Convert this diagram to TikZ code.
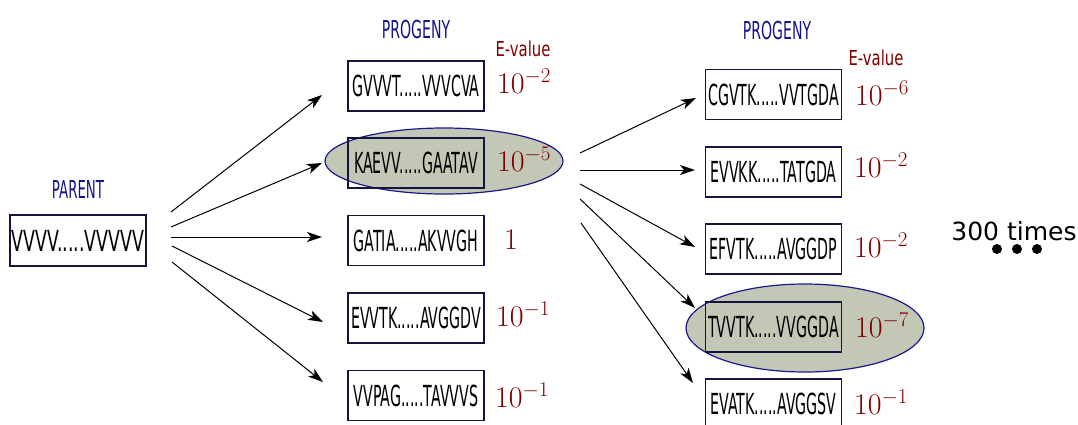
\RequirePackage{fix-cm}
\documentclass[tikz,border=0pt]{standalone}
\usepackage{fontspec}
\newfontfamily\seqfont{DejaVu Sans}
\usetikzlibrary{arrows.meta,shapes.geometric}
\definecolor{boxline}{RGB}{20,20,60}
\definecolor{lblblue}{RGB}{20,20,140}
\definecolor{evred}{RGB}{128,0,0}
\definecolor{hlfill}{RGB}{195,199,182}
\definecolor{hlline}{RGB}{25,25,140}
\newcommand{\seqtxt}[2][0.49]{\scalebox{#1}[1]{\seqfont\fontsize{29}{30}\selectfont #2}}
\newcommand{\hdrtxt}[3]{\scalebox{#1}[1]{\seqfont\fontsize{#2}{#2}\selectfont #3}}
\begin{document}
\begin{tikzpicture}[x=1pt,y=-1pt,
 seqbox/.style={draw=boxline,line width=1.3pt,minimum width=136pt,minimum height=50pt,inner sep=0pt},
 evnode/.style={text=evred,anchor=base,inner sep=0pt,font=\fontsize{30}{32}\selectfont},
 hdr/.style={text=lblblue,anchor=base,inner sep=0pt},
 evhdr/.style={text=evred,anchor=base,inner sep=0pt},
 hl/.style={ellipse,draw=hlline,fill=hlfill,line width=1.2pt,inner sep=0pt},
 arr/.style={-{Stealth[length=15pt,width=10pt,inset=4pt]},line width=1pt}
]
\useasboundingbox (0,0) rectangle (1078,424);
% highlight ellipses
\node[hl,minimum width=238pt,minimum height=66pt] (hlA) at (444,161) {};
\node[hl,minimum width=238pt,minimum height=88pt] (hlB) at (805,328) {};
% parent
\node[hdr] (parentlbl) at (78,198) {\hdrtxt{0.54}{24.7}{PARENT}};
\node[seqbox,minimum height=51pt] (par) at (78,240.5) {\seqtxt[0.6]{VVVV.....VVVVV}};
% middle column
\node[hdr] (progA) at (416,38) {\hdrtxt{0.57}{24.7}{PROGENY}};
\node[evhdr] (evA) at (523,56) {\hdrtxt{0.72}{20.6}{E-value}};
\node[seqbox] (m1) at (416,86) {\seqtxt{GVVVT.....VVVCVA}};
\node[seqbox] (m2) at (416,163) {\seqtxt{KAEVV.....GAATAV}};
\node[seqbox] (m3) at (416,240.5) {\seqtxt{GATIA.....AKVVGH}};
\node[seqbox] (m4) at (416,318) {\seqtxt{EVVTK.....AVGGDV}};
\node[seqbox] (m5) at (416,395.5) {\seqtxt{VVPAG.....TAVVVS}};
\node[evnode] (v1) at (524,93) {$10^{-2}$};
\node[evnode] (v2) at (524,171) {$10^{-5}$};
\node[evnode] (v3) at (511,249) {$1$};
\node[evnode] (v4) at (523,326) {$10^{-1}$};
\node[evnode] (v5) at (522,407) {$10^{-1}$};
% right column
\node[hdr] (progB) at (777,39) {\hdrtxt{0.57}{24.7}{PROGENY}};
\node[evhdr] (evB) at (876,65) {\hdrtxt{0.72}{20.6}{E-value}};
\node[seqbox] (r1) at (773.5,94.5) {\seqtxt{CGVTK.....VVTGDA}};
\node[seqbox] (r2) at (773.5,172) {\seqtxt{EVVKK.....TATGDA}};
\node[seqbox] (r3) at (773.5,249) {\seqtxt{EFVTK.....AVGGDP}};
\node[seqbox] (r4) at (773.5,327) {\seqtxt{TVVTK.....VVGGDA}};
\node[seqbox] (r5) at (773.5,404) {\seqtxt{EVATK.....AVGGSV}};
\node[evnode] (w1) at (882,105) {$10^{-6}$};
\node[evnode] (w2) at (881,177) {$10^{-2}$};
\node[evnode] (w3) at (881,257) {$10^{-2}$};
\node[evnode] (w4) at (882,337) {$10^{-7}$};
\node[evnode] (w5) at (881,414) {$10^{-1}$};
% 300 times
\node[anchor=base,inner sep=0pt,font=\seqfont\fontsize{25}{25}\selectfont] (times) at (1014,240) {300 times};
\foreach \i/\xx in {1/997,2/1017,3/1037} \fill (\xx,249) circle (5pt) coordinate (dot\i);
% arrow coordinates
\coordinate (ps1) at (171,212); \coordinate (pe1) at (322,95);
\coordinate (ps2) at (171,227); \coordinate (pe2) at (322,163);
\coordinate (ps3) at (171,237); \coordinate (pe3) at (322,237);
\coordinate (ps4) at (172,246); \coordinate (pe4) at (323,322);
\coordinate (ps5) at (172,262); \coordinate (pe5) at (323,382);
\coordinate (qs1) at (580,153); \coordinate (qe1) at (696,98);
\coordinate (qs2) at (580,170); \coordinate (qe2) at (695,170);
\coordinate (qs3) at (580,184); \coordinate (qe3) at (695,247);
\coordinate (qs4) at (580,199); \coordinate (qe4) at (695,308);
\coordinate (qs5) at (581,223); \coordinate (qe5) at (693,383);
\foreach \i in {1,...,5} {
  \draw[arr] (ps\i) -- (pe\i);
  \draw[arr] (qs\i) -- (qe\i);
}
\end{tikzpicture}
\end{document}
